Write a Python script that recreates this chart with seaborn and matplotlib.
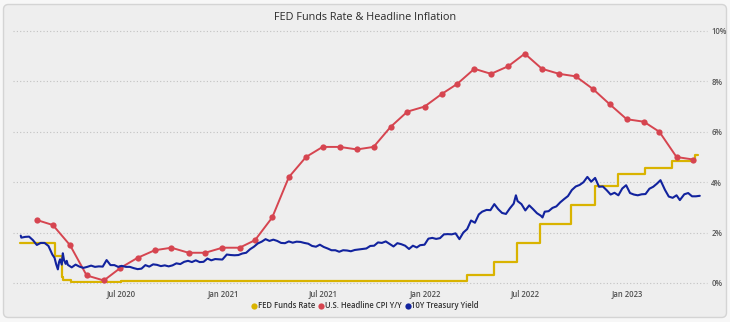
import numpy as np
import pandas as pd
import matplotlib
matplotlib.use("Agg")
import matplotlib.pyplot as plt
import seaborn as sns
from matplotlib.patches import FancyBboxPatch
from matplotlib.lines import Line2D
from matplotlib.transforms import IdentityTransform

# ---------------- data ----------------
cpi_values = [2.5, 2.3, 1.5, 0.3, 0.1, 0.6, 1.0, 1.3, 1.4, 1.2, 1.2, 1.4,
              1.4, 1.7, 2.6, 4.2, 5.0, 5.4, 5.4, 5.3, 5.4, 6.2, 6.8, 7.0,
              7.5, 7.9, 8.5, 8.3, 8.6, 9.1, 8.5, 8.3, 8.2, 7.7, 7.1, 6.5,
              6.4, 6.0, 5.0, 4.9]
cpi_dates = pd.date_range("2020-01-01", periods=len(cpi_values), freq="MS") + pd.offsets.MonthEnd(0)

fed_dates = ["2020-01-01", "2020-03-04", "2020-03-16", "2020-03-19", "2020-04-01",
             "2020-07-01", "2021-03-01", "2021-06-17", "2022-03-17", "2022-05-05",
             "2022-06-16", "2022-07-28", "2022-09-22", "2022-11-03", "2022-12-15",
             "2023-02-02", "2023-03-23", "2023-05-04", "2023-05-09"]
fed_values = [1.58, 1.09, 0.25, 0.10, 0.05,
              0.09, 0.07, 0.08, 0.33, 0.83,
              1.58, 2.33, 3.08, 3.83, 4.33,
              4.58, 4.83, 5.08, 5.08]

t10_dates = [
    "2020-01-02", "2020-01-03", "2020-01-10", "2020-01-17", "2020-01-24", "2020-01-31",
    "2020-02-07", "2020-02-14", "2020-02-21", "2020-02-28", "2020-03-03", "2020-03-06",
    "2020-03-09", "2020-03-11", "2020-03-13", "2020-03-16", "2020-03-18", "2020-03-20",
    "2020-03-23", "2020-03-25", "2020-03-27", "2020-04-03", "2020-04-10", "2020-04-17",
    "2020-04-24", "2020-05-01", "2020-05-08", "2020-05-15", "2020-05-22", "2020-05-29",
    "2020-06-05", "2020-06-12", "2020-06-19", "2020-06-26", "2020-07-02", "2020-07-10",
    "2020-07-17", "2020-07-24", "2020-07-31", "2020-08-07", "2020-08-14", "2020-08-21",
    "2020-08-28", "2020-09-04", "2020-09-11", "2020-09-18", "2020-09-25", "2020-10-02",
    "2020-10-09", "2020-10-16", "2020-10-23", "2020-10-30", "2020-11-06", "2020-11-13",
    "2020-11-20", "2020-11-27", "2020-12-04", "2020-12-11", "2020-12-18", "2020-12-24",
    "2020-12-31",
    "2021-01-08", "2021-01-15", "2021-01-22", "2021-01-29", "2021-02-05", "2021-02-12",
    "2021-02-19", "2021-02-26", "2021-03-05", "2021-03-12", "2021-03-19", "2021-03-26",
    "2021-04-02", "2021-04-09", "2021-04-16", "2021-04-23", "2021-04-30", "2021-05-07",
    "2021-05-14", "2021-05-21", "2021-05-28", "2021-06-04", "2021-06-11", "2021-06-18",
    "2021-06-25", "2021-07-02", "2021-07-09", "2021-07-16", "2021-07-23", "2021-07-30",
    "2021-08-06", "2021-08-13", "2021-08-20", "2021-08-27", "2021-09-03", "2021-09-10",
    "2021-09-17", "2021-09-24", "2021-10-01", "2021-10-08", "2021-10-15", "2021-10-22",
    "2021-10-29", "2021-11-05", "2021-11-12", "2021-11-19", "2021-11-26", "2021-12-03",
    "2021-12-10", "2021-12-17", "2021-12-23", "2021-12-31",
    "2022-01-07", "2022-01-14", "2022-01-21", "2022-01-28", "2022-02-04", "2022-02-11",
    "2022-02-18", "2022-02-25", "2022-03-04", "2022-03-11", "2022-03-18", "2022-03-25",
    "2022-04-01", "2022-04-08", "2022-04-14", "2022-04-22", "2022-04-29", "2022-05-06",
    "2022-05-13", "2022-05-20", "2022-05-27", "2022-06-03", "2022-06-10", "2022-06-14",
    "2022-06-17", "2022-06-24", "2022-07-01", "2022-07-08", "2022-07-15", "2022-07-22",
    "2022-07-29", "2022-08-01", "2022-08-05", "2022-08-12", "2022-08-19", "2022-08-26",
    "2022-09-02", "2022-09-09", "2022-09-16", "2022-09-23", "2022-09-30", "2022-10-07",
    "2022-10-14", "2022-10-21", "2022-10-28", "2022-11-04", "2022-11-11", "2022-11-18",
    "2022-11-25", "2022-12-02", "2022-12-09", "2022-12-16", "2022-12-23", "2022-12-30",
    "2023-01-06", "2023-01-13", "2023-01-20", "2023-01-27", "2023-02-03", "2023-02-10",
    "2023-02-17", "2023-02-24", "2023-03-02", "2023-03-10", "2023-03-17", "2023-03-24",
    "2023-03-31", "2023-04-06", "2023-04-14", "2023-04-21", "2023-04-28", "2023-05-05",
    "2023-05-12"]
t10_values = [
    1.88, 1.80, 1.83, 1.84, 1.70, 1.51,
    1.59, 1.59, 1.47, 1.13, 1.00, 0.74,
    0.54, 0.82, 0.94, 0.73, 1.18, 0.92,
    0.76, 0.88, 0.72, 0.62, 0.73, 0.65,
    0.60, 0.64, 0.69, 0.64, 0.66, 0.65,
    0.91, 0.71, 0.71, 0.64, 0.68, 0.64,
    0.64, 0.59, 0.55, 0.57, 0.71, 0.65,
    0.74, 0.72, 0.67, 0.70, 0.66, 0.70,
    0.78, 0.75, 0.84, 0.88, 0.83, 0.90,
    0.83, 0.84, 0.97, 0.90, 0.95, 0.94,
    0.93,
    1.13, 1.11, 1.10, 1.11, 1.17, 1.20,
    1.34, 1.44, 1.57, 1.64, 1.74, 1.67,
    1.72, 1.67, 1.59, 1.58, 1.65, 1.60,
    1.64, 1.63, 1.59, 1.56, 1.47, 1.44,
    1.52, 1.43, 1.37, 1.30, 1.30, 1.24,
    1.30, 1.29, 1.26, 1.31, 1.33, 1.35,
    1.37, 1.47, 1.48, 1.61, 1.59, 1.65,
    1.55, 1.45, 1.58, 1.54, 1.48, 1.35,
    1.48, 1.41, 1.50, 1.52,
    1.76, 1.79, 1.75, 1.78, 1.93, 1.94,
    1.93, 1.97, 1.74, 2.00, 2.14, 2.48,
    2.39, 2.72, 2.83, 2.90, 2.89, 3.13,
    2.93, 2.78, 2.74, 2.96, 3.15, 3.48,
    3.25, 3.13, 2.88, 3.08, 2.93, 2.77,
    2.67, 2.60, 2.83, 2.85, 2.98, 3.04,
    3.20, 3.33, 3.45, 3.69, 3.83, 3.89,
    4.00, 4.21, 4.02, 4.17, 3.82, 3.83,
    3.68, 3.51, 3.58, 3.48, 3.75, 3.88,
    3.57, 3.51, 3.48, 3.52, 3.53, 3.74,
    3.82, 3.95, 4.08, 3.70, 3.43, 3.38,
    3.48, 3.29, 3.52, 3.57, 3.44, 3.44,
    3.46]

series_labels = ["FED Funds Rate", "U.S. Headline CPI Y/Y", "10Y Treasury Yield"]
series_colors = ["#D9B300", "#D64550", "#12239E"]
tick_dates = ["2020-07-01", "2021-01-01", "2021-07-01", "2022-01-01", "2022-07-01", "2023-01-01"]
tick_labels = ["Jul 2020", "Jan 2021", "Jul 2021", "Jan 2022", "Jul 2022", "Jan 2023"]
y_ticks = [0, 2, 4, 6, 8, 10]
title = "FED Funds Rate & Headline Inflation"

# ---------------- figure ----------------
sns.set_style("white")
plt.rcParams["font.family"] = ["Open Sans", "DejaVu Sans"]

W, H = 730, 322
fig = plt.figure(figsize=(W / 100, H / 100), dpi=100)
fig.patch.set_facecolor("#f7f7f7")

card = FancyBboxPatch((3.5, 4.5), 723, 313, boxstyle="round,pad=0,rounding_size=5",
                      transform=IdentityTransform(), facecolor="#eeeeee",
                      edgecolor="#d4d4d4", linewidth=1.0, zorder=0)
fig.add_artist(card)

ax = fig.add_axes([13 / W, 39 / H, 694 / W, 252 / H])
ax.set_facecolor("none")

fed_df = pd.DataFrame({"date": pd.to_datetime(fed_dates), "value": fed_values})
cpi_df = pd.DataFrame({"date": cpi_dates, "value": cpi_values})
t10_df = pd.DataFrame({"date": pd.to_datetime(t10_dates), "value": t10_values})

sns.lineplot(data=fed_df, x="date", y="value", ax=ax, color=series_colors[0],
             drawstyle="steps-post", linewidth=1.6, zorder=3)
sns.lineplot(data=cpi_df, x="date", y="value", ax=ax, color=series_colors[1],
             linewidth=1.4, marker="o", markersize=4.5, markeredgewidth=0, zorder=4)
sns.lineplot(data=t10_df, x="date", y="value", ax=ax, color=series_colors[2],
             linewidth=1.5, zorder=5)

ax.set_xlim(pd.Timestamp("2019-12-19"), pd.Timestamp("2023-05-25"))
ax.set_ylim(0, 10)
ax.set_xlabel("")
ax.set_ylabel("")
for s in ax.spines.values():
    s.set_visible(False)

ax.set_yticks(y_ticks)
ax.set_yticklabels([f"{v}%" for v in y_ticks])
ax.yaxis.tick_right()
ax.yaxis.grid(True, linestyle=(0, (1, 2)), color="#c2c2c2", linewidth=0.8)
ax.xaxis.grid(False)
for gl in ax.get_ygridlines():
    gl.set_clip_on(False)
ax.tick_params(axis="y", length=0, pad=3, labelsize=5.5, labelcolor="#555555")

ax.set_xticks(pd.to_datetime(tick_dates))
ax.set_xticklabels(tick_labels)
ax.tick_params(axis="x", length=0, pad=4, labelsize=5.5, labelcolor="#505050")
for lbl in ax.get_xticklabels() + ax.get_yticklabels():
    lbl.set_fontweight("semibold")

fig.text(0.5, 1 - 17 / H, title, ha="center", va="center", fontsize=7.8, color="#2b2b2b")

handles = [Line2D([], [], marker="o", linestyle="", color=c, markersize=4.5, markeredgewidth=0)
           for c in series_colors]
leg = fig.legend(handles, series_labels, loc="center", bbox_to_anchor=(365 / W, 1 - 306 / H),
                 ncol=3, frameon=False, fontsize=5.5, handletextpad=0.05, columnspacing=0.45,
                 handlelength=0.8, borderaxespad=0)
for t in leg.get_texts():
    t.set_color("#333333")
    t.set_fontweight("semibold")

fig.savefig("out.png", dpi=100, facecolor=fig.get_facecolor())
